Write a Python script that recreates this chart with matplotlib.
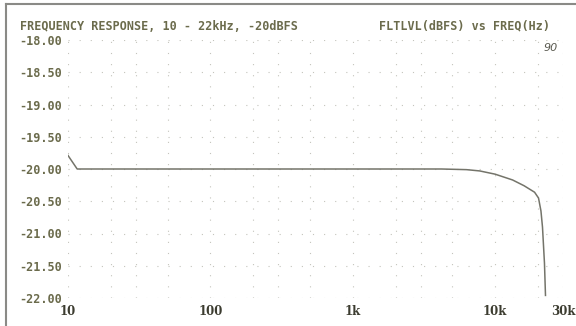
import matplotlib.pyplot as plt
from matplotlib.lines import Line2D
from matplotlib.ticker import FixedLocator, NullFormatter

# Valeurs (niveau en dBFS vs frequence en Hz)
freq_hz = [10, 11.6, 30, 100, 300, 1000, 3000, 4200, 6300, 7800, 10000,
           13270, 16000, 18940, 20190, 21000, 21530, 22230, 22600]
level_dbfs = [-19.79, -20.0, -20.0, -20.0, -20.0, -20.0, -20.0, -20.0, -20.01,
              -20.03, -20.08, -20.17, -20.26, -20.36, -20.45, -20.65, -20.90,
              -21.46, -21.96]

y_ticks = [-18.0, -18.5, -19.0, -19.5, -20.0, -20.5, -21.0, -21.5, -22.0]
x_ticks = [10, 100, 1000, 10000, 30000]
x_labels = ["10", "100", "1k", "10k", "30k"]

TEXT_COL = "#6b6b4c"
LINE_COL = "#74746a"
GRID_COL = "#c4c4bc"

fig = plt.figure(figsize=(5.76, 3.26), dpi=100)
ax = fig.add_axes([68 / 576, 1 - 298 / 326, (563 - 68) / 576, (298 - 40) / 326])

ax.plot(freq_hz, level_dbfs, color=LINE_COL, linewidth=1.1)

ax.set_xscale("log")
ax.set_xlim(10, 30000)
ax.set_ylim(-22.0, -18.0)

ax.set_yticks(y_ticks)
ax.set_yticklabels([f"{v:.2f}" for v in y_ticks], family="DejaVu Sans Mono",
                   fontweight="bold", fontsize=8.5, color=TEXT_COL)
ax.xaxis.set_major_locator(FixedLocator(x_ticks))
ax.set_xticklabels(x_labels, family="DejaVu Serif", fontweight="bold",
                   fontsize=8.5, color="#3c3c30")
ax.xaxis.set_minor_locator(FixedLocator([20, 30, 50, 200, 300, 500,
                                         2000, 3000, 5000, 20000]))
ax.xaxis.set_minor_formatter(NullFormatter())
ax.tick_params(axis="both", which="both", length=0)
ax.tick_params(axis="y", pad=4)
ax.tick_params(axis="x", pad=5)

ax.grid(True, which="both", color=GRID_COL, linestyle=(0, (1, 9)), linewidth=0.8)
for s in ax.spines.values():
    s.set_visible(False)

# Titres en haut
fig.text(20 / 576, 1 - 26 / 326, "FREQUENCY RESPONSE, 10 - 22kHz, -20dBFS",
         family="DejaVu Sans Mono", fontweight="bold", fontsize=8.5,
         color=TEXT_COL, va="center", ha="left")
fig.text(550 / 576, 1 - 26 / 326, "FLTLVL(dBFS) vs FREQ(Hz)",
         family="DejaVu Sans Mono", fontweight="bold", fontsize=8.5,
         color=TEXT_COL, va="center", ha="right")

# Annotation manuscrite
fig.text(551 / 576, 1 - 48 / 326, "90", fontsize=8, style="italic",
         color="#5a5a50", va="center", ha="center")

# Cadre du scan (gauche et haut)
fig.add_artist(Line2D([6 / 576, 6 / 576], [0, 1 - 4 / 326], color="#8a8a86", lw=1.5))
fig.add_artist(Line2D([6 / 576, 1], [1 - 4 / 326, 1 - 4 / 326], color="#8a8a86", lw=1.5))

fig.savefig("out.png", dpi=100, facecolor="white")
